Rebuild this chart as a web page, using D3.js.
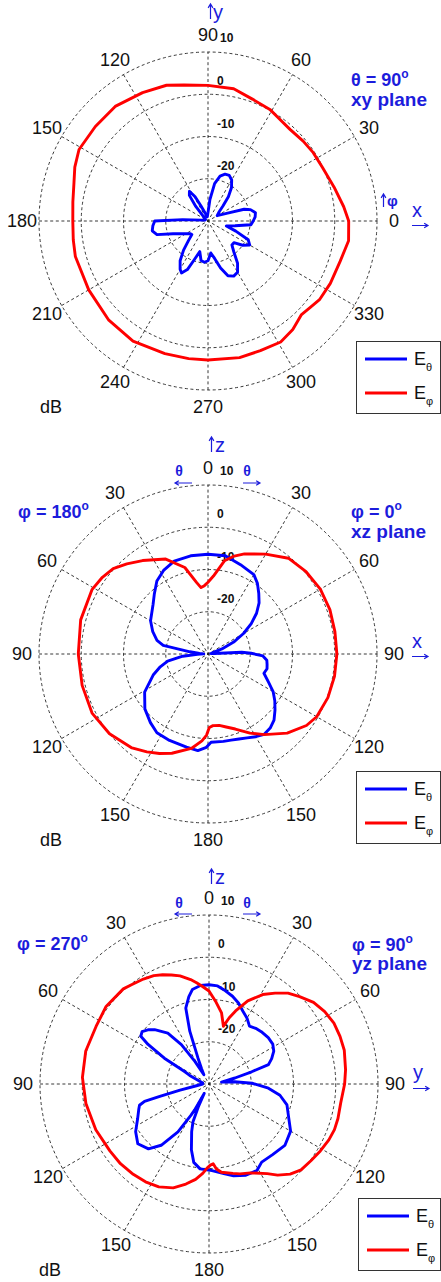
<!DOCTYPE html>
<html>
<head>
<meta charset="utf-8">
<script src="https://cdn.jsdelivr.net/npm/d3@7"></script>
<style>
  html, body { margin: 0; padding: 0; background: #fff; }
  svg { display: block; font-family: "Liberation Sans", Arial, Helvetica, sans-serif; }
</style>
</head>
<body>
<svg id="chart" width="441" height="1282"></svg>
<script>
// ---------- radial (dB) axis ----------
const dbMin = -30;
const dbMax = 10;
const dbRings = [-20, -10, 0, 10];
const dbRingLabels = ["-20", "-10", "0", "10"];

// ---------- angular tick labels ----------
// xy plane: azimuth phi, counter-clockwise from +x
const xyTickAngles = [0, 30, 60, 90, 120, 150, 180, 210, 240, 270, 300, 330];
const xyTickLabels = ["0", "30", "60", "90", "120", "150", "180", "210", "240", "270", "300", "330"];
// xz / yz planes: theta, measured clockwise from +z (top) on the right half
const elevTickAngles = [0, 30, 60, 90, 120, 150, 180, 210, 240, 270, 300, 330];
const elevTickLabels = ["0", "30", "60", "90", "120", "150", "180", "150", "120", "90", "60", "30"];

// ---------- xy plane (theta = 90°), angle = phi ----------
const xyEthetaAngle = [0, 5, 10, 15, 18, 22, 30, 40, 45, 50, 55, 60, 65, 70, 75, 80, 85, 90, 100, 110, 115, 118, 122, 126, 130, 135, 145, 160, 172, 177, 180, 185, 190, 195, 200, 205, 210, 215, 220, 225, 230, 235, 240, 243, 247, 250, 255, 260, 265, 270, 275, 280, 285, 290, 295, 300, 305, 310, 315, 320, 325, 330, 335, 340, 345, 350, 355];
const xyEthetaDb = [-19.3, -18.8, -18.6, -19.6, -21, -25, -27.5, -26.5, -25, -22.5, -20.3, -18.8, -18.1, -18.2, -19.0, -21.0, -25, -28, -29, -28, -26, -23.5, -21.7, -22.5, -25.5, -28.5, -29.3, -29.3, -28.5, -24, -17.4, -16.9, -16.6, -17.5, -21.2, -22.9, -24, -24.8, -25, -23.5, -21, -18.5, -16.8, -16.2, -17.5, -20, -22.5, -20.5, -20.2, -20.6, -22.4, -21, -18.5, -16.2, -15.6, -16.0, -17.8, -20.5, -22, -22, -20, -18.6, -19.5, -23, -25.5, -23.5, -19.8];
const xyEphiAngle = [0, 6, 15, 25, 33, 40, 48, 55, 61, 70, 79, 90, 100, 107, 117, 129, 140, 151, 158, 164, 172, 180, 188, 195, 210, 225, 238, 252, 262, 270, 283, 292, 301, 308, 312, 315, 320, 325, 333, 343, 352];
const xyEphiDb = [3.3, 2.3, 0.9, -0.1, -0.3, -0.6, -0.9, -0.5, 0.2, 0.7, 1.9, 2.1, 2.7, 3.6, 4.1, 4.9, 4.8, 4.9, 4.0, 3.0, 2.3, 2.0, 2.2, 2.5, 2.6, 3.2, 3.5, 3.0, 2.9, 2.9, 3.2, 3.1, 3.4, 2.6, 1.8, 1.3, 1.7, 2.3, 2.5, 2.7, 3.6];

// ---------- xz plane (phi = 0° right, 180° left), angle clockwise from +z ----------
const xzEthetaAngle = [0, 10, 20, 30, 35, 40, 45, 50, 55, 60, 65, 70, 75, 80, 85, 87, 89, 92, 96, 100, 104, 109, 115, 120, 125, 130, 135, 140, 145, 150, 155, 160, 165, 170, 178, 181, 186, 193, 204, 213, 220, 229, 239, 249, 255, 260, 265, 268, 271, 274, 277, 281, 285, 292, 300, 312, 318, 325, 332, 340, 350];
const xzEthetaDb = [-6.4, -6.4, -7.5, -8.3, -9.6, -11.3, -12.9, -15.0, -17.5, -20.3, -23.3, -26.5, -28.8, -29.3, -28.5, -22, -19.8, -17.0, -16.0, -15.8, -15.6, -16.0, -14.2, -12.2, -10.7, -9.3, -7.9, -7.1, -6.8, -7.4, -8.1, -8.6, -8.9, -9.0, -9.1, -7.9, -7.0, -7.4, -7.6, -7.8, -8.8, -10.2, -12.5, -16.1, -18.3, -20.3, -24.0, -27.5, -29, -28, -25.7, -19.2, -17.5, -15.9, -14.3, -12.5, -11.0, -8.9, -7.6, -6.6, -6.4];
const xzEphiAngle = [0, 4, 10, 15, 20, 30, 40, 50, 60, 70, 80, 90, 100, 110, 120, 126, 135, 145, 152, 160, 166, 171, 176, 179, 181, 184, 190, 200, 206, 212, 219, 231, 243, 256, 270, 285, 299, 306, 312, 318, 325, 336, 345, 351, 354, 357];
const xzEphiDb = [-13.0, -11.5, -7.6, -6.0, -4.8, -2.7, -0.4, 0.3, 0.7, 0.7, 0.5, 0.5, 0.4, 0.2, -0.3, -1.2, -3.5, -6.7, -8.8, -11.1, -12.2, -12.9, -13.0, -12.6, -10.8, -9.4, -7.3, -5.0, -3.8, -2.7, -1.4, 0.0, 0.8, 0.7, 0.7, 1.2, 1.4, 0.9, 0.2, -1.3, -3.0, -5.4, -8.8, -12.9, -14.2, -13.8];

// ---------- yz plane (phi = 90° right, 270° left), angle clockwise from +z ----------
const yzEthetaAngle = [0, 5, 10, 15, 20, 25, 30, 35, 40, 45, 52, 58, 63, 68, 72, 74, 77, 81, 85, 89, 94, 99, 105, 113, 120, 129, 138, 146, 151, 158, 165, 170, 178, 186, 191, 195, 200, 203, 205, 207, 209, 210, 213, 218, 223, 230, 237, 244, 250, 253, 255, 256, 258, 262, 270, 280, 290, 294, 297, 300, 303, 305, 308, 312, 315, 321, 325, 328, 331, 334, 337, 340, 343, 347, 350, 355];
const yzEthetaDb = [-6.5, -6.7, -7.6, -8.5, -9.6, -11.0, -12.0, -13.3, -12.8, -12.5, -12.2, -12.2, -12.8, -14.0, -15.2, -19.5, -23.7, -27, -23.9, -19.8, -15.9, -13.0, -10.9, -9.5, -7.7, -6.9, -7.5, -7.7, -6.6, -6.7, -7.5, -8.4, -9.5, -9.8, -11.1, -13.9, -18, -20.3, -24, -27.5, -23, -21.5, -16.5, -11.6, -9.0, -8.0, -9.3, -11.2, -12.3, -12.8, -14.2, -18, -23, -27, -28.5, -28.5, -27, -25, -23.5, -17.8, -12.8, -10.3, -9.9, -10.8, -11.8, -14.5, -18.6, -23.7, -27.5, -26, -23.3, -16.7, -11.2, -8.8, -7.3, -6.6];
const yzEphiAngle = [0, 5, 10, 14, 17, 20, 25, 31, 36, 41, 46, 52, 58, 64, 70, 76, 84, 90, 98, 105, 110, 115, 121, 127, 133, 138, 143, 147, 155, 161, 165, 172, 175, 177, 179, 181, 184, 188, 193, 199, 206, 213, 220, 228, 236, 248, 261, 273, 285, 297, 307, 318, 322, 328, 333, 337, 341, 345, 350, 353, 356];
const yzEphiDb = [-8.0, -10.6, -12.9, -15.9, -13.6, -11.6, -8.3, -5.3, -3.4, -1.5, -0.2, 1.4, 2.3, 2.9, 3.0, 3.0, 2.5, 2.1, 1.5, 1.6, 1.6, 1.3, 0.75, 0.2, -0.2, -1.3, -3.0, -4.7, -6.8, -7.5, -8.1, -8.9, -9.8, -11.1, -10.8, -10.2, -8.8, -7.2, -5.7, -4.0, -2.9, -2.4, -2.1, -1.8, -1.7, -1.1, -0.5, 0.0, 0.2, 0.0, 0.5, 0.3, -0.2, -0.7, -1.2, -1.9, -2.7, -3.5, -4.9, -5.85, -6.8];

// ---------- drawing ----------
const svg = d3.select("#chart");
const BLUE = "#0000ff";
const RED = "#ff0000";
const TEXT_BLUE = "#1c1cdc";
const R = 169;          // outer ring radius (10 dB)
const LABEL_R = 186;    // angular tick label radius
const rad = d => d * Math.PI / 180;

function zip(angles, values) {
  return angles.map((a, i) => ({ a, v: values[i] }));
}

// toScreen converts a data angle to the d3.lineRadial convention (radians, clockwise from top)
function drawPanel(cx, cy, tickAngles, tickLabels, toScreen, series) {
  const g = svg.append("g").attr("transform", `translate(${cx},${cy})`);
  const r = d3.scaleLinear().domain([dbMin, dbMax]).range([0, R]).clamp(true);

  // dashed rings
  g.selectAll("circle.ring").data(dbRings).join("circle")
    .attr("class", "ring")
    .attr("r", d => r(d))
    .attr("fill", "none").attr("stroke", "#222")
    .attr("stroke-width", 0.9).attr("stroke-dasharray", "3,2.6");

  // dashed spokes every 30°
  g.selectAll("line.spoke").data(d3.range(0, 180, 30)).join("line")
    .attr("class", "spoke")
    .attr("x1", d => -R * Math.sin(rad(d))).attr("y1", d => R * Math.cos(rad(d)))
    .attr("x2", d => R * Math.sin(rad(d))).attr("y2", d => -R * Math.cos(rad(d)))
    .attr("stroke", "#222").attr("stroke-width", 0.9).attr("stroke-dasharray", "3,2.6");

  // angular tick labels
  g.selectAll("text.ang").data(tickAngles).join("text")
    .attr("class", "ang")
    .attr("x", d => LABEL_R * Math.sin(toScreen(d)))
    .attr("y", d => -LABEL_R * Math.cos(toScreen(d)))
    .attr("text-anchor", "middle").attr("dominant-baseline", "central")
    .attr("font-size", 18).attr("fill", "#111")
    .text((d, i) => tickLabels[i]);

  // ring labels
  g.selectAll("text.ringlab").data(dbRings).join("text")
    .attr("class", "ringlab")
    .attr("x", d => d === dbMax ? 12 : 9)
    .attr("y", d => -r(d) - (d === dbMax ? 14 : 13))
    .attr("dominant-baseline", "central")
    .attr("font-size", 12).attr("font-weight", "bold").attr("fill", "#111")
    .text((d, i) => dbRingLabels[i]);

  // pattern curves
  const line = d3.lineRadial()
    .angle(d => toScreen(d.a))
    .radius(d => r(d.v))
    .curve(d3.curveLinearClosed);
  series.forEach(s => {
    g.append("path")
      .attr("d", line(s.data))
      .attr("fill", "none").attr("stroke", s.color)
      .attr("stroke-width", 2.9).attr("stroke-linejoin", "round");
  });
  return g;
}

function legend(x, y) {
  const g = svg.append("g").attr("transform", `translate(${x},${y})`);
  g.append("rect").attr("x", 0.5).attr("y", 0.5).attr("width", 440.5 - x - 0.5).attr("height", 72)
    .attr("fill", "#fff").attr("stroke", "#333").attr("stroke-width", 1);
  [["θ", BLUE, 18], ["φ", RED, 52]].forEach(([sub, col, ly]) => {
    g.append("line").attr("x1", 9).attr("x2", 51).attr("y1", ly).attr("y2", ly)
      .attr("stroke", col).attr("stroke-width", 3);
    const t = g.append("text").attr("x", 58).attr("y", ly + 5.5)
      .attr("font-size", 18).attr("fill", "#111");
    t.append("tspan").text("E");
    t.append("tspan").attr("font-size", 11).attr("dy", 6).text(sub);
  });
}

function blueText(x, y, str, size, weight, anchor) {
  return svg.append("text").attr("x", x).attr("y", y)
    .attr("font-size", size).attr("font-weight", weight || "normal")
    .attr("text-anchor", anchor || "start")
    .attr("fill", TEXT_BLUE).text(str);
}

// thin direction arrow with an open head at (x2, y2)
function arrow(x1, y1, x2, y2) {
  const ang = Math.atan2(y2 - y1, x2 - x1);
  const h = 4.5, spread = 0.55;
  const p = d3.path();
  p.moveTo(x1, y1); p.lineTo(x2, y2);
  p.moveTo(x2 - h * Math.cos(ang - spread), y2 - h * Math.sin(ang - spread));
  p.lineTo(x2, y2);
  p.lineTo(x2 - h * Math.cos(ang + spread), y2 - h * Math.sin(ang + spread));
  svg.append("path").attr("d", p.toString()).attr("fill", "none")
    .attr("stroke", TEXT_BLUE).attr("stroke-width", 1.2);
}

function degText(x, y, str) {
  const t = svg.append("text").attr("x", x).attr("y", y)
    .attr("font-size", 18).attr("font-weight", "bold").attr("fill", TEXT_BLUE);
  t.append("tspan").text(str);
  t.append("tspan").attr("font-size", 12).attr("dy", -8).text("o");
  return t;
}

function darkText(x, y, str) {
  svg.append("text").attr("x", x).attr("y", y).attr("text-anchor", "middle")
    .attr("dominant-baseline", "central").attr("font-size", 18).attr("fill", "#111").text(str);
}

// ===== Panel 1: xy plane =====
drawPanel(208, 221, xyTickAngles, xyTickLabels, a => rad(90 - a), [
  { color: BLUE, data: zip(xyEthetaAngle, xyEthetaDb) },
  { color: RED, data: zip(xyEphiAngle, xyEphiDb) }
]);
arrow(210.5, 19, 210.5, 4);
blueText(213, 19, "y", 20);
arrow(383.5, 207, 383.5, 194);
blueText(387, 206, "φ", 15, "bold");
blueText(417, 217, "x", 20, "normal", "middle");
arrow(412, 225.5, 428, 225.5);
degText(351, 86, "θ = 90");
blueText(351, 105.5, "xy plane", 19, "bold");
legend(356, 341);
darkText(51, 407, "dB");

// ===== Panel 2: xz plane =====
drawPanel(208, 654, elevTickAngles, elevTickLabels, a => rad(a), [
  { color: BLUE, data: zip(xzEthetaAngle, xzEthetaDb) },
  { color: RED, data: zip(xzEphiAngle, xzEphiDb) }
]);
arrow(211.5, 452, 211.5, 437);
blueText(215, 452, "z", 20);
blueText(179, 476, "θ", 14, "bold", "middle");
arrow(192, 483, 175, 483);
blueText(247, 476, "θ", 14, "bold", "middle");
arrow(243, 483, 260, 483);
degText(18, 518, "φ = 180");
degText(351, 518, "φ = 0");
blueText(351, 538, "xz plane", 19, "bold");
blueText(417, 648, "x", 20, "normal", "middle");
arrow(412, 656.5, 428, 656.5);
legend(356, 771);
darkText(51, 840, "dB");

// ===== Panel 3: yz plane =====
drawPanel(209, 1084, elevTickAngles, elevTickLabels, a => rad(a), [
  { color: BLUE, data: zip(yzEthetaAngle, yzEthetaDb) },
  { color: RED, data: zip(yzEphiAngle, yzEphiDb) }
]);
arrow(211.5, 884, 211.5, 869);
blueText(215, 884, "z", 20);
blueText(179, 908, "θ", 14, "bold", "middle");
arrow(192, 914, 175, 914);
blueText(247, 908, "θ", 14, "bold", "middle");
arrow(243, 914, 260, 914);
degText(17, 950, "φ = 270");
degText(352, 951, "φ = 90");
blueText(352, 970, "yz plane", 19, "bold");
blueText(418, 1079, "y", 20, "normal", "middle");
arrow(413, 1088.5, 429, 1088.5);
legend(358, 1198);
darkText(50, 1270, "dB");
</script>
</body>
</html>
